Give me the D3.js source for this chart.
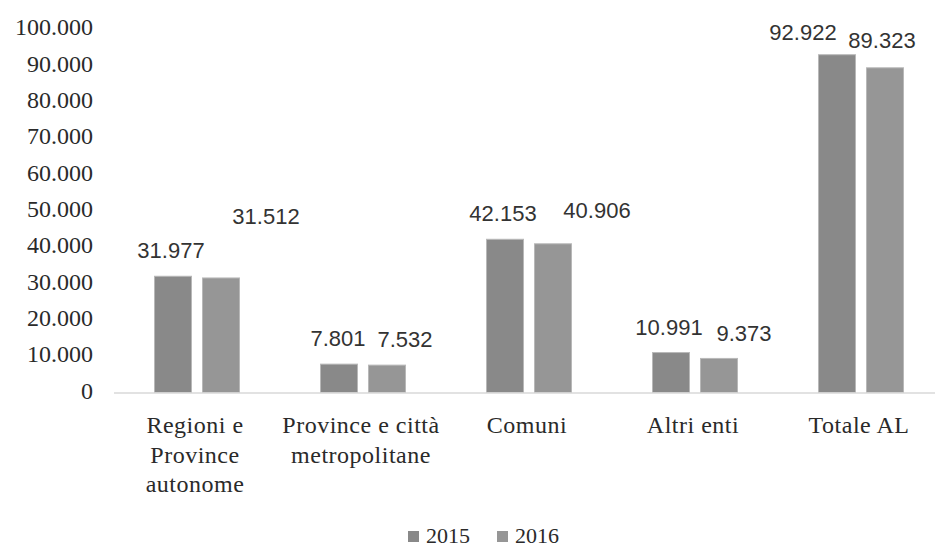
<!DOCTYPE html>
<html>
<head>
<meta charset="utf-8">
<script src="https://cdn.jsdelivr.net/npm/d3@7"></script>
<style>
  html, body { margin: 0; padding: 0; background: #fff; }
  svg { display: block; }
</style>
</head>
<body>
<svg id="chart" width="935" height="548"></svg>
<script>
// ---- data ----
const categories = ["Regioni e\nProvince\nautonome", "Province e città\nmetropolitane", "Comuni", "Altri enti", "Totale AL"];
const seriesNames = ["2015", "2016"];
const values2015 = [31977, 7801, 42153, 10991, 92922];
const values2016 = [31512, 7532, 40906, 9373, 89323];
const yTicks = [0, 10000, 20000, 30000, 40000, 50000, 60000, 70000, 80000, 90000, 100000];
// label nudges (layout only): [dx, dy] per series per category
const labelNudge2015 = [[-2, 0], [-1, 0], [-2, 0], [-2, 0], [-34, 3]];
const labelNudge2016 = [[45, -36], [18, 0], [44, -8], [25, 1], [-3, -2]];

const colors = {"2015": "#898989", "2016": "#969696"};
const fmt = v => d3.format(",")(v).replace(/,/g, ".");
const serif = "'Liberation Serif', 'Times New Roman', serif";
const sans = "'Liberation Sans', Arial, sans-serif";

const svg = d3.select("#chart");
const W = 935, H = 548;
const x0 = d3.scaleBand().domain(categories).range([114, 944]).paddingInner(0).paddingOuter(0);
const step = x0.bandwidth();
const x1 = d3.scaleBand().domain(seriesNames).range([step / 2 - 42.5, step / 2 + 42.5]).paddingInner(11 / 48).paddingOuter(0);
const y = d3.scaleLinear().domain([0, 100000]).range([392.5, 29]);

// y axis labels
const yAxis = d3.axisLeft(y).tickValues(yTicks).tickFormat(fmt).tickSize(0).tickPadding(0);
const gy = svg.append("g").attr("transform", "translate(93,-2)").call(yAxis);
gy.select(".domain").remove();
gy.attr("font-family", serif).attr("font-size", 24);
gy.selectAll("text")
  .style("font-family", serif)
  .style("font-size", "24px")
  .style("fill", "#2a2a2a");

// bars
const seriesData = seriesNames.map((s, si) => ({
  name: s,
  values: si === 0 ? values2015 : values2016,
  nudges: si === 0 ? labelNudge2015 : labelNudge2016
}));

const gBars = svg.append("g");
seriesData.forEach(s => {
  const rows = categories.map((c, i) => ({c, v: s.values[i], n: s.nudges[i]}));
  gBars.selectAll(null)
    .data(rows)
    .join("rect")
    .attr("x", d => x0(d.c) + x1(s.name))
    .attr("y", d => y(d.v))
    .attr("width", x1.bandwidth())
    .attr("height", d => y(0) - y(d.v))
    .attr("fill", colors[s.name])
    .attr("stroke", "#b8b8b8")
    .attr("stroke-width", 1);

  gBars.selectAll(null)
    .data(rows)
    .join("text")
    .attr("x", d => x0(d.c) + x1(s.name) + x1.bandwidth() / 2 + d.n[0])
    .attr("y", d => y(d.v) - 18 + d.n[1])
    .attr("text-anchor", "middle")
    .style("font-family", sans)
    .style("font-size", "22px")
    .attr("fill", "#333")
    .text(d => fmt(d.v));
});

// x axis line
svg.append("line")
  .attr("x1", 114).attr("x2", W)
  .attr("y1", y(0) + 0.5).attr("y2", y(0) + 0.5)
  .attr("stroke", "#d9d9d9").attr("stroke-width", 1.5);

// category labels
const gx = svg.append("g");
categories.forEach(c => {
  const cx = x0(c) + step / 2 - 2;
  const t = gx.append("text")
    .attr("x", cx)
    .attr("y", 433)
    .attr("text-anchor", "middle")
    .style("font-family", serif)
    .style("font-size", "24px")
    .attr("letter-spacing", 0.5)
    .attr("fill", "#2a2a2a");
  c.split("\n").forEach((line, i) => {
    t.append("tspan")
      .attr("x", cx)
      .attr("dy", i === 0 ? 0 : 29.5)
      .text(line);
  });
});

// legend
const legendX = [408, 497];
const gl = svg.append("g");
seriesNames.forEach((s, i) => {
  gl.append("rect")
    .attr("x", legendX[i]).attr("y", 531)
    .attr("width", 11).attr("height", 11)
    .attr("fill", colors[s]);
  gl.append("text")
    .attr("x", legendX[i] + 18).attr("y", 543)
    .style("font-family", serif)
    .style("font-size", "22px")
    .attr("fill", "#2a2a2a")
    .text(s);
});
</script>
</body>
</html>
